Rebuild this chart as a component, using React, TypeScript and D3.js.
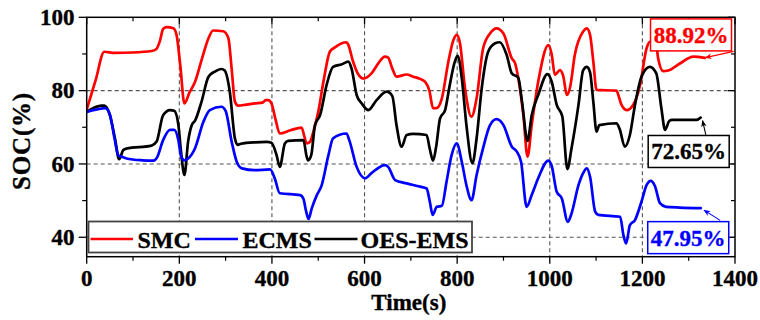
import React from "react";
import * as d3 from "d3";

const smcTime = [0,19,38,60,100,140,150,158,165,173,187,194,202,211,222,234,248,263,273,295,306,313,320,327,345,363,381,386,392,399,408,417,440,464,470,475,482,490,500,512,525,536,561,565,575,587,597,615,630,644,651,660,669,691,705,720,731,740,748,755,767,781,792,799,806,817,831,842,856,871,885,900,918,925,932,943,952,961,975,997,1004,1011,1022,1029,1037,1044,1054,1072,1080,1087,1094,1101,1144,1150,1155,1166,1180,1195,1209,1216,1229,1234,1245,1256,1281,1310,1335];
const smcSoc = [74.8,82.7,90.6,90.3,90.4,90.8,91.3,93.5,96.8,97.3,97.0,95.2,87,76.5,79.5,82.4,88.3,94.3,96.4,96.2,94.3,86,77,75.9,76.2,76.5,76.8,77.4,77.4,76.5,72,68.3,69.2,69.9,67.5,65.6,66,69,74.2,83,90.6,91.8,93.2,92.5,88,84.3,83.3,84.7,87.5,89.3,89,86,83.8,84.4,83.8,83.2,82.4,80,75.2,75.2,77.9,87.9,93.8,95.2,93,80.6,72.9,77.9,91.5,95.6,97,95.6,88.8,87.5,83.4,73.3,62,70.6,82.4,92.4,90,84.3,85.6,84,78.8,81,89.7,96.1,97,95.2,88,80.2,80,78,76.1,74.7,76.1,81.5,91.5,93.3,93.3,88.8,85.3,85.5,87.4,89.3,88.92];

const ecmsTime = [0,20,40,50,60,68,75,86,120,144,152,165,180,189,198,204,211,219,234,252,266,291,300,313,324,335,363,396,406,417,461,468,474,479,486,497,507,522,532,561,567,583,601,615,644,651,666,691,720,734,741,747,756,767,777,788,799,810,820,831,842,856,871,885,900,918,928,938,950,961,975,997,1004,1015,1026,1039,1047,1062,1072,1080,1087,1098,1105,1152,1159,1165,1173,1184,1198,1209,1218,1227,1238,1251,1281,1326];
const ecmsSoc = [74.2,74.8,75.2,73.5,67,62.4,62,61.5,61,60.9,61.8,66.5,69.3,69.3,66.5,62,61,61.5,64.3,71.5,74.7,75.6,74.5,66.1,60.6,58.8,58.3,58.5,56.1,52,51.5,50.5,47,45,47.9,51.5,54,62.4,67,68.3,66.5,59.2,56.1,57.5,59.7,59.2,55.6,54.7,53.8,53.3,49.7,46.1,48.3,48.6,55.1,62.4,65.6,60.6,54.2,50.1,57,64.3,70.6,72.2,70.6,64.7,63.5,60.6,48.3,51.5,56.1,60.9,59.5,52.4,50.6,44.2,46.5,54.2,57.5,58.8,56.5,47,46.1,45.6,40.6,38.3,43.3,44.7,49.7,54.2,55.4,54,49.3,48.3,48.1,47.95];

const oesTime = [0,32,38,50,61,70,79,86,140,151,165,180,189,198,204,211,219,227,234,248,263,277,291,298,309,320,326,333,363,389,399,410,417,428,435,468,475,478,485,493,504,518,532,551,565,572,583,594,608,626,648,660,669,680,691,705,734,741,748,755,763,774,784,795,801,810,820,833,842,853,867,882,892,907,918,932,940,952,961,975,995,1004,1015,1027,1038,1047,1062,1072,1080,1087,1094,1101,1107,1144,1151,1162,1173,1184,1198,1216,1230,1241,1249,1258,1264,1317,1326];
const oesSoc = [74.2,75.9,75.9,73.3,67,61.3,63.8,64.2,65,66.1,73.3,74.7,74.5,70.6,63,57,66.1,70.6,71.8,77,83.8,85.2,85.9,85.5,79.7,67,65.2,65.5,65.9,66,65.8,62.4,59.2,65.6,66.3,66.5,62,61,62.5,70.6,73.3,81.5,86.5,87.2,87.9,86,78.8,76.5,74.7,77.4,79.7,78.5,70.6,64.7,67.9,68.2,67.9,64,60.9,65,72.4,74.7,81.5,87.9,89.5,83.4,70.6,60.2,67,80.6,90.6,92.9,93.2,89.7,84.7,83.5,77,66.3,73.3,78.8,84.5,82.5,76.1,73,58.6,64.3,76.1,85.5,86.5,85,77,68.8,70.6,71.1,69.5,64.7,67.9,76.1,83.8,86.5,84.7,75.2,69.3,71.7,72,72,72.65];

const xTicks = [0,200,400,600,800,1000,1200,1400];
const xMinorTicks = [100,300,500,700,900,1100,1300];
const yTicks = [40,60,80,100];
const yMinorTicks = [50,70,90];
const xGrid = [200,400,600,800,1000,1200];
const yGrid = [40,60,80];

const seriesNames = ["SMC","ECMS","OES-EMS"];
const seriesColors = ["#ff0000","#0000ff","#000000"];
const finalLabels = ["88.92%","47.95%","72.65%"];

const FONT = "Liberation Serif";

export default function App() {
  const W = 760, H = 320;
  const left = 86.7, right = 735, top = 17.3, bottom = 256.7;
  const x = d3.scaleLinear().domain([0, 1400]).range([left, right]);
  const y = d3.scaleLinear().domain([34.7, 100]).range([bottom, top]);

  const line = d3.line<[number, number]>()
    .x(d => x(d[0]))
    .y(d => y(d[1]))
    .curve(d3.curveMonotoneX);

  const series = [
    { t: smcTime, v: smcSoc },
    { t: ecmsTime, v: ecmsSoc },
    { t: oesTime, v: oesSoc },
  ].map(s => s.t.map((t, i) => [t, s.v[i]] as [number, number]));

  const ann = [
    { cx: 1305, cy: 95.2, tail: [1397, 90.7], head: [1336, 89.0], series: 0 },
    { cx: 1299, cy: 39.9, tail: [1368, 44.6], head: [1333, 47.4], series: 1 },
    { cx: 1300, cy: 63.4, tail: [1337, 67.9], head: [1330, 71.8], series: 2 },
  ];

  const gridColor = "#555";
  const txt = { fontFamily: FONT, fontWeight: 700, stroke: "#000", strokeWidth: 0.35 } as React.CSSProperties;

  return (
    <svg width={W} height={H} style={{ position: "absolute", left: 0, top: 0, background: "#fff" }}>
      <defs>
        <clipPath id="plotclip">
          <rect x={left} y={top} width={right - left} height={bottom - top} />
        </clipPath>
        {seriesColors.map((c, i) => (
          <marker key={i} id={`arr${i}`} viewBox="0 0 10 10" refX="9" refY="5"
            markerWidth="7" markerHeight="7" orient="auto" markerUnits="userSpaceOnUse">
            <path d="M0,1 L10,5 L0,9 L3,5 Z" fill={c} />
          </marker>
        ))}
      </defs>
      <rect x={0} y={0} width={W} height={H} fill="#fff" />

      {xGrid.map(g => (
        <line key={"xg" + g} x1={x(g)} x2={x(g)} y1={top} y2={bottom}
          stroke={gridColor} strokeWidth={1.1} strokeDasharray="4,3" />
      ))}
      {yGrid.map(g => (
        <line key={"yg" + g} x1={left} x2={right} y1={y(g)} y2={y(g)}
          stroke={gridColor} strokeWidth={1.1} strokeDasharray="4,3" />
      ))}

      <g clipPath="url(#plotclip)">
        {[0, 2, 1].map(i => (
          <path key={i} d={line(series[i]) || ""} fill="none" stroke={seriesColors[i]}
            strokeWidth={2.7} strokeLinejoin="round" strokeLinecap="round" />
        ))}
      </g>

      <rect x={left} y={top} width={right - left} height={bottom - top} fill="none" stroke="#000" strokeWidth={1.5} />

      {xTicks.map(t => (
        <g key={"xt" + t}>
          <line x1={x(t)} x2={x(t)} y1={bottom} y2={bottom + 7} stroke="#000" strokeWidth={1.3} />
          <line x1={x(t)} x2={x(t)} y1={top} y2={top + 7} stroke="#000" strokeWidth={1.3} />
          <text x={x(t)} y={286} textAnchor="middle" style={{ ...txt, fontSize: 23 }}>{t}</text>
        </g>
      ))}
      {xMinorTicks.map(t => (
        <g key={"xm" + t}>
          <line x1={x(t)} x2={x(t)} y1={bottom} y2={bottom + 4} stroke="#000" strokeWidth={1.2} />
          <line x1={x(t)} x2={x(t)} y1={top} y2={top + 4} stroke="#000" strokeWidth={1.2} />
        </g>
      ))}
      {yTicks.map(t => (
        <g key={"yt" + t}>
          <line x1={left - 8} x2={left} y1={y(t)} y2={y(t)} stroke="#000" strokeWidth={1.3} />
          <line x1={right - 7} x2={right} y1={y(t)} y2={y(t)} stroke="#000" strokeWidth={1.3} />
          <text x={74.5} y={y(t) + 7.6} textAnchor="end" style={{ ...txt, fontSize: 23 }}>{t}</text>
        </g>
      ))}
      {yMinorTicks.map(t => (
        <g key={"ym" + t}>
          <line x1={left - 4.5} x2={left} y1={y(t)} y2={y(t)} stroke="#000" strokeWidth={1.2} />
          <line x1={right - 4} x2={right} y1={y(t)} y2={y(t)} stroke="#000" strokeWidth={1.2} />
        </g>
      ))}

      <text x={(left + right) / 2 - 2} y={310} textAnchor="middle" style={{ ...txt, fontSize: 23 }}>Time(s)</text>
      <text transform={`translate(30,${(top + bottom) / 2 + 4}) rotate(-90)`} textAnchor="middle"
        style={{ ...txt, fontSize: 25, letterSpacing: 0.8 }}>SOC(%)</text>

      <g>
        <rect x={88.5} y={221.5} width={383.5} height={31} fill="#fff" stroke="#444" strokeWidth={1.8} />
        {[
          { x1: 90.5, x2: 133, tx: 137.5 },
          { x1: 195, x2: 238, tx: 242.5 },
          { x1: 314.5, x2: 357.5, tx: 360.5 },
        ].map((p, i) => (
          <g key={i}>
            <line x1={p.x1} x2={p.x2} y1={239} y2={239} stroke={seriesColors[i]} strokeWidth={2.7} />
            <text x={p.tx} y={247.5} style={{ ...txt, fontSize: 24 }}>{seriesNames[i]}</text>
          </g>
        ))}
      </g>

      {ann.map((a, i) => {
        const c = seriesColors[a.series];
        const bx = x(a.cx), by = y(a.cy);
        return (
          <g key={i}>
            <line x1={x(a.tail[0])} y1={y(a.tail[1])} x2={x(a.head[0])} y2={y(a.head[1])}
              stroke={c} strokeWidth={1.1} markerEnd={`url(#arr${a.series})`} />
            <rect x={bx - 40.5} y={by - 16} width={81} height={32} fill="#fff" stroke={c} strokeWidth={1.5} />
            <text x={bx} y={by + 8} textAnchor="middle" style={{ ...txt, fontSize: 23, fill: c, stroke: c }}>
              {finalLabels[a.series]}
            </text>
          </g>
        );
      })}
    </svg>
  );
}
